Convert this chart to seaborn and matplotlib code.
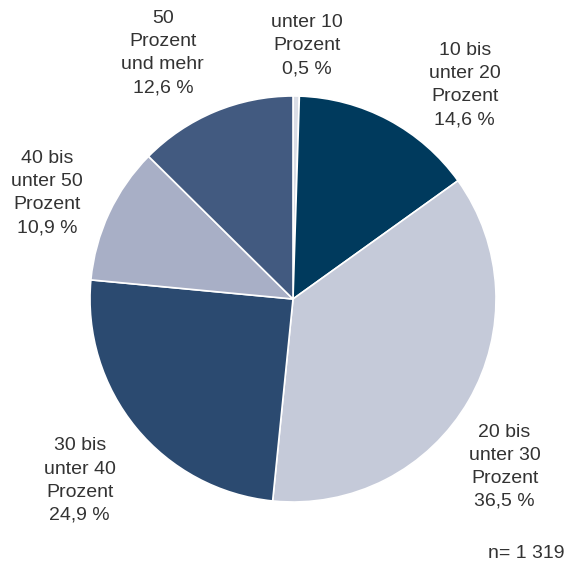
import numpy as np
import seaborn as sns
import matplotlib.pyplot as plt

# Shares of the 1 319 cases by group
categories = ['unter 10\nProzent', '10 bis\nunter 20\nProzent', '20 bis\nunter 30\nProzent',
              '30 bis\nunter 40\nProzent', '40 bis\nunter 50\nProzent', '50\nProzent\nund mehr']
shares = [0.5, 14.6, 36.5, 24.9, 10.9, 12.6]
colors = ['#d9dde6', '#003a5d', '#c5cad9', '#2b4a70', '#a8afc6', '#425a80']

# where each label sits (angle in degrees, distance in radii)
label_angle = [86.8, 51.2, -38.4, -139.6, 156.7, 117.9]
label_dist = [1.25, 1.35, 1.33, 1.38, 1.32, 1.37]

sns.set_theme(style='white')
plt.rcParams['font.family'] = ['Liberation Sans', 'DejaVu Sans']

fig = plt.figure(figsize=(5.7, 5.68), dpi=100)
r_px = 203
ax = fig.add_axes([(293 - r_px) / 570, (568 - 299 - r_px) / 568, 2 * r_px / 570, 2 * r_px / 568])

ax.pie(shares, colors=colors, startangle=90, counterclock=False,
       wedgeprops={'edgecolor': 'white', 'linewidth': 1.2})
ax.set_xlim(-1, 1)
ax.set_ylim(-1, 1)
ax.axis('off')

for cat, val, ang, d in zip(categories, shares, label_angle, label_dist):
    txt = cat + '\n' + f'{val:.1f}'.replace('.', ',') + ' %'
    ax.text(d * np.cos(np.radians(ang)), d * np.sin(np.radians(ang)), txt,
            ha='center', va='center', fontsize=14, color='#333333',
            linespacing=1.47, clip_on=False)

fig.text(0.99, 0.025, 'n= 1 319', ha='right', va='center', fontsize=14, color='#333333')

plt.savefig('out.png', dpi=100)
